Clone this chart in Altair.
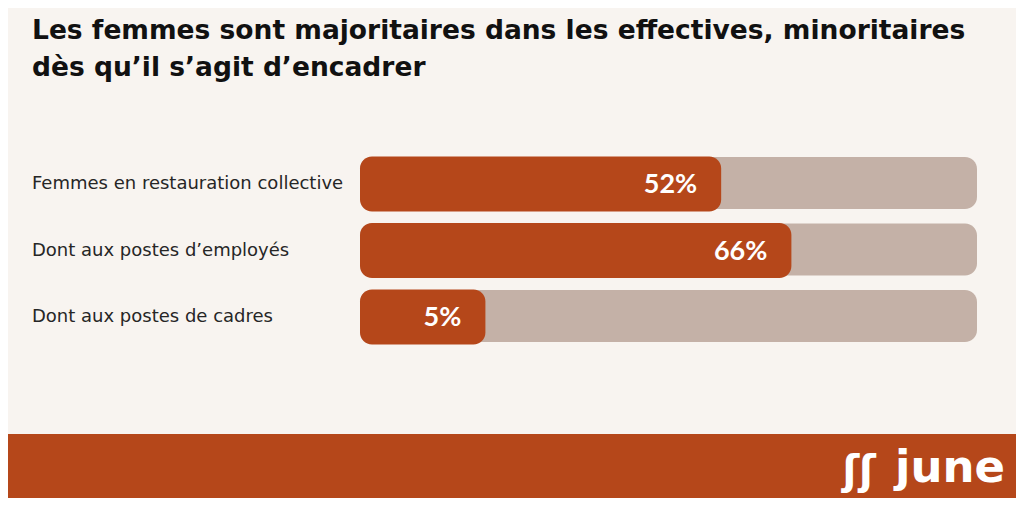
import altair as alt
import pandas as pd

categories = ["Femmes en restauration collective", "Dont aux postes d’employés", "Dont aux postes de cadres"]
values = [52, 66, 5]
value_labels = ["52%", "66%", "5%"]
title_lines = ["Les femmes sont majoritaires dans les effectives, minoritaires", "dès qu’il s’agit d’encadrer"]
brand = "june"

ORANGE = "#B5471A"
TRACK = "#C4B1A7"
BG = "#F8F4F0"

df = pd.DataFrame({"cat": categories, "value": values, "label": value_labels})

W, H = 1008, 490
xscale = alt.Scale(domain=[-20, 103], range=[352, 969])
yenc = alt.Y("cat:N", sort=categories, axis=None,
             scale=alt.Scale(type="point", range=[176, 309], padding=0))

base = alt.Chart(df).transform_calculate(start="-20", end="103")

track = base.mark_bar(color=TRACK, cornerRadius=12, height=52, yOffset=-1).encode(
    x=alt.X("start:Q", scale=xscale, axis=None),
    x2="end:Q",
    y=yenc,
)
fill = base.mark_bar(color=ORANGE, cornerRadius=12, height=55).encode(
    x=alt.X("start:Q", scale=xscale, axis=None),
    x2="value:Q",
    y=yenc,
)
pct = base.mark_text(align="right", baseline="middle", dx=-24, dy=1, color="white",
                     font="Lato", fontWeight="bold", fontSize=27).encode(
    x=alt.X("value:Q", scale=xscale, axis=None),
    y=yenc,
    text="label:N",
)
cats = base.mark_text(align="left", baseline="middle", color="#262626",
                      font="DejaVu Sans", fontSize=18).encode(
    x=alt.value(24),
    y=yenc,
    text="cat:N",
)

one = alt.Chart(alt.Data(values=[{"a": 1}]))
title = one.mark_text(align="left", baseline="alphabetic", color="#111111",
                      font="DejaVu Sans", fontWeight="bold", fontSize=26.5, lineHeight=37,
                      text=title_lines).encode(
    x=alt.value(24), y=alt.value(31)
)
footer = one.mark_rect(color=ORANGE).encode(
    x=alt.value(-8), x2=alt.value(W + 8), y=alt.value(426), y2=alt.value(H)
)
logo = one.mark_text(align="right", baseline="alphabetic", color="white",
                     font="DejaVu Sans", fontWeight="bold", fontSize=45, text=brand).encode(
    x=alt.value(997), y=alt.value(474)
)
icon = one.mark_text(align="center", baseline="alphabetic", color="white",
                     font="DejaVu Sans", fontWeight="bold", fontSize=40, text="ʃʃ").encode(
    x=alt.value(851), y=alt.value(476)
)

chart = alt.layer(footer, track, fill, pct, cats, title, icon, logo).properties(
    width=W, height=H, autosize=alt.AutoSizeParams(type="none"), padding=0,
    background=BG,
).configure_view(stroke=None)

chart.save("out.html", embed_options={"renderer": "svg", "actions": False})
